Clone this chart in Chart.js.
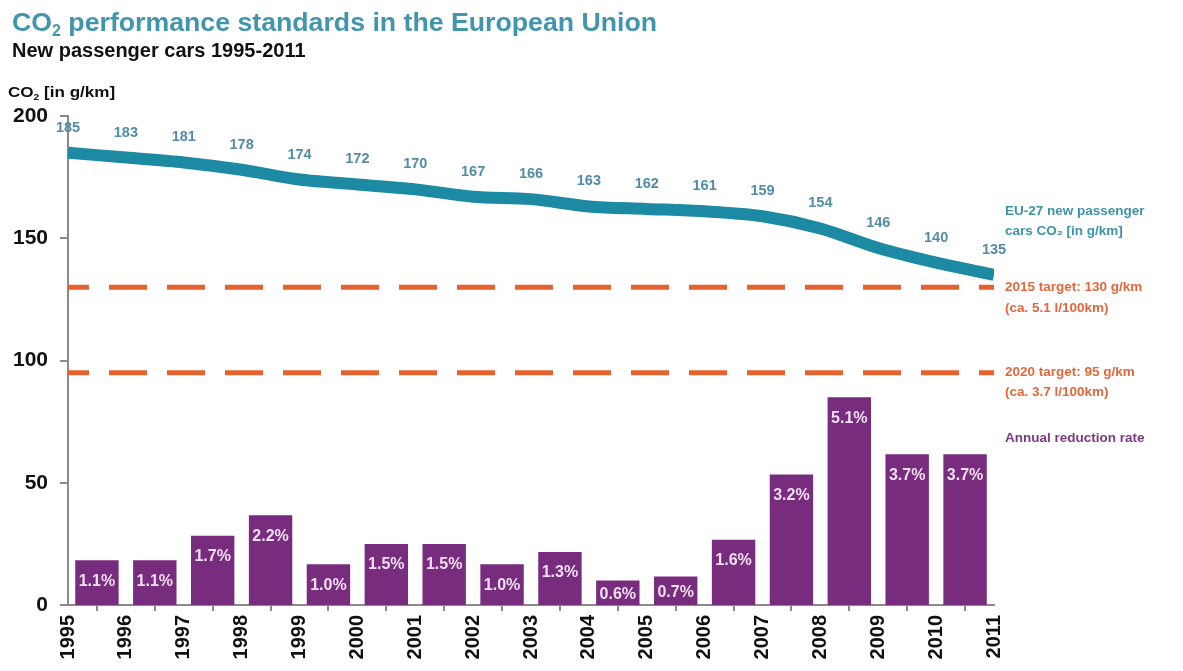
<!DOCTYPE html>
<html>
<head>
<meta charset="utf-8">
<script src="https://cdn.jsdelivr.net/npm/chart.js@4.4.1/dist/chart.umd.min.js"></script>
<style>
  html, body { margin: 0; padding: 0; background: #fff; }
  #wrap { position: relative; width: 1183px; height: 671px; overflow: hidden; }
  #chart { position: absolute; left: 0; top: 0; }
  .t { position: absolute; font-family: "Liberation Sans", Arial, sans-serif; font-weight: bold; white-space: nowrap; line-height: 1; }
  #title { left: 12px; top: 9px; font-size: 26.7px; color: #4195ac; }
  #subtitle { left: 12px; top: 40px; font-size: 20px; color: #111; }
  #ytitle { left: 8px; top: 85px; font-size: 14px; color: #111; transform: scaleX(1.22); transform-origin: left center; }
  sub { font-size: 0.6em; vertical-align: -0.3em; line-height: 0; }
</style>
</head>
<body>
<div id="wrap">
  <canvas id="chart" width="1183" height="671"></canvas>
  <div class="t" id="title">CO<sub>2</sub> performance standards in the European Union</div>
  <div class="t" id="subtitle">New passenger cars 1995-2011</div>
  <div class="t" id="ytitle">CO<sub>2</sub> [in g/km]</div>
</div>
<script>
// Years on the horizontal axis (ticks sit on each year)
const years = [1995, 1996, 1997, 1998, 1999, 2000, 2001, 2002, 2003,
               2004, 2005, 2006, 2007, 2008, 2009, 2010, 2011];
// Average CO2 emissions of new passenger cars, EU-27 [g/km]
const co2 = [185, 183, 181, 178, 174, 172, 170, 167, 166,
             163, 162, 161, 159, 154, 146, 140, 135];
// Annual reduction rate between consecutive years [%]
const reductionRate = [1.1, 1.1, 1.7, 2.2, 1.0, 1.5, 1.5, 1.0,
                       1.3, 0.6, 0.7, 1.6, 3.2, 5.1, 3.7, 3.7];
// Regulatory targets [g/km]
const target2015 = 130;
const target2020 = 95;
// Value-axis tick labels
const yTicks = [0, 50, 100, 150, 200];

const FONT = '"Liberation Sans", Arial, sans-serif';
const TEAL = '#1b8aa2';
const ORANGE = '#e5622f';
const PURPLE = '#782c7d';

// Rate bars span each year interval, so they sit half-way between year ticks
const rateBars = reductionRate.map((v, i) => ({ x: (years[i] + years[i + 1]) / 2, y: v }));
const co2Line = co2.map((v, i) => ({ x: years[i], y: v }));
const targetLine = t => [{ x: years[0], y: t }, { x: years[years.length - 1], y: t }];

// Value labels on the line and bars, plus the series captions on the right
const annotate = {
  id: 'annotate',
  afterDatasetsDraw(chart) {
    const ctx = chart.ctx;
    const area = chart.chartArea;
    const y = chart.scales.y;
    ctx.save();
    ctx.textAlign = 'center';
    ctx.textBaseline = 'middle';

    // percentages inside the bars
    ctx.font = 'bold 16px ' + FONT;
    ctx.fillStyle = '#f2dff2';
    chart.getDatasetMeta(3).data.forEach((bar, i) => {
      const top = bar.y, bottom = bar.base;
      const ty = Math.min(top + 21, (top + bottom) / 2 + 2);
      ctx.fillText(reductionRate[i].toFixed(1) + '%', bar.x, ty);
    });

    // CO2 values above the line
    ctx.font = 'bold 14.5px ' + FONT;
    ctx.fillStyle = '#538ca7';
    chart.getDatasetMeta(0).data.forEach((pt, i) => {
      ctx.fillText(String(co2[i]), pt.x, pt.y - 25);
    });

    // captions to the right of the plot
    ctx.font = 'bold 13.5px ' + FONT;
    ctx.textAlign = 'left';
    const lx = area.right + 11;
    const last = chart.getDatasetMeta(0).data[co2.length - 1];
    ctx.fillStyle = '#3c93aa';
    ctx.fillText('EU-27 new passenger', lx, last.y - 64);
    ctx.fillText('cars CO\u2082 [in g/km]', lx, last.y - 44);
    ctx.fillStyle = '#e0683c';
    const y15 = y.getPixelForValue(target2015);
    ctx.fillText('2015 target: 130 g/km', lx, y15);
    ctx.fillText('(ca. 5.1 l/100km)', lx, y15 + 21);
    const y20 = y.getPixelForValue(target2020);
    ctx.fillText('2020 target: 95 g/km', lx, y20);
    ctx.fillText('(ca. 3.7 l/100km)', lx, y20 + 20);
    ctx.fillStyle = '#7b3983';
    ctx.fillText('Annual reduction rate', lx, y20 + 66);
    ctx.restore();
  }
};

new Chart(document.getElementById('chart'), {
  type: 'line',
  data: {
    datasets: [
      {
        label: 'EU-27 new passenger cars CO2 [in g/km]',
        data: co2Line,
        borderColor: TEAL,
        borderWidth: 12,
        pointRadius: 0,
        tension: 0.3,
        yAxisID: 'y',
        order: 0
      },
      {
        label: '2015 target',
        data: targetLine(target2015),
        borderColor: ORANGE,
        borderWidth: 5,
        borderDash: [38, 20],
        borderDashOffset: 17,
        pointRadius: 0,
        yAxisID: 'y',
        order: 1
      },
      {
        label: '2020 target',
        data: targetLine(target2020),
        borderColor: ORANGE,
        borderWidth: 5,
        borderDash: [38, 20],
        borderDashOffset: 17,
        pointRadius: 0,
        yAxisID: 'y',
        order: 1
      },
      {
        type: 'bar',
        label: 'Annual reduction rate',
        data: rateBars,
        backgroundColor: PURPLE,
        barPercentage: 0.75,
        categoryPercentage: 1,
        yAxisID: 'yRate',
        order: 2
      }
    ]
  },
  options: {
    responsive: false,
    animation: false,
    layout: { padding: { top: 116, right: 189, left: 0, bottom: 0 } },
    plugins: {
      legend: { display: false },
      tooltip: { enabled: false },
      title: { display: false }
    },
    scales: {
      x: {
        type: 'linear',
        min: years[0],
        max: years[years.length - 1],
        offset: false,
        afterBuildTicks: s => { s.ticks = years.map(v => ({ value: v })); },
        afterFit: s => { s.height = 66; },
        grid: { drawOnChartArea: false, drawTicks: true, tickLength: 6, color: '#8a8a8a', lineWidth: 2 },
        border: { color: '#8a8a8a', width: 2 },
        ticks: {
          autoSkip: false,
          minRotation: 90,
          maxRotation: 90,
          padding: 4,
          color: '#111',
          font: { family: FONT, size: 20, weight: 'bold' },
          callback: v => String(v)
        }
      },
      y: {
        type: 'linear',
        position: 'left',
        min: yTicks[0],
        max: yTicks[yTicks.length - 1],
        afterBuildTicks: s => { s.ticks = yTicks.map(v => ({ value: v })); },
        afterFit: s => { s.width = 68; },
        grid: { drawOnChartArea: false, drawTicks: true, tickLength: 8, color: '#8a8a8a', lineWidth: 2 },
        border: { color: '#8a8a8a', width: 2 },
        ticks: {
          padding: 12,
          color: '#111',
          font: { family: FONT, size: 21, weight: 'bold' },
          callback: v => String(v)
        }
      },
      yRate: {
        type: 'linear',
        display: false,
        min: 0,
        max: 12
      }
    }
  },
  plugins: [annotate]
});
</script>
</body>
</html>
